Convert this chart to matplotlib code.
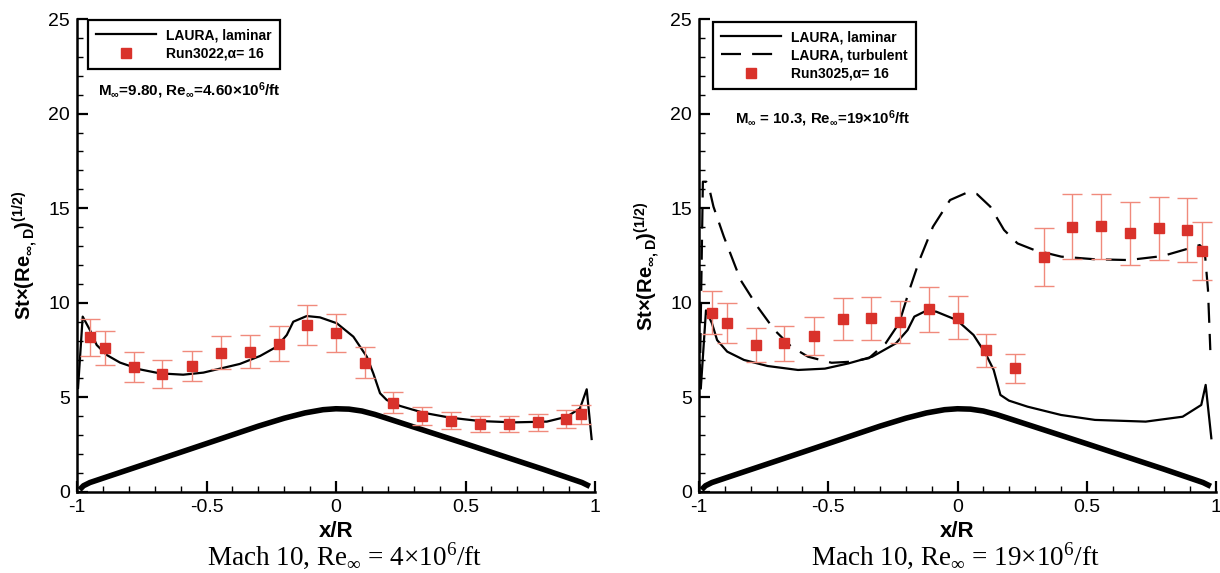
import matplotlib
matplotlib.use('Agg')
import matplotlib.pyplot as plt
from matplotlib.ticker import MultipleLocator

plt.rcParams['font.family'] = ['Liberation Sans', 'DejaVu Sans']
plt.rcParams['mathtext.fontset'] = 'custom'
plt.rcParams['mathtext.rm'] = 'Liberation Serif'
plt.rcParams['mathtext.bf'] = 'Liberation Sans:bold'
plt.rcParams['mathtext.sf'] = 'Liberation Sans'
plt.rcParams['mathtext.default'] = 'bf'

# ---- data ----
# body profile (same in both panels)
body_x = [-0.99, -0.975, -0.95, -0.9, -0.6, -0.3, -0.2, -0.12, -0.05, 0.0, 0.05, 0.1, 0.15, 0.2, 0.5, 0.8, 0.95, 0.98]
body_y = [0.12, 0.33, 0.5, 0.73, 2.1, 3.48, 3.9, 4.18, 4.35, 4.4, 4.38, 4.28, 4.1, 3.88, 2.55, 1.2, 0.5, 0.3]

# left panel: Run3022
lam1_x = [-0.996, -0.978, -0.95, -0.924, -0.885, -0.834, -0.757, -0.68, -0.59, -0.512, -0.448, -0.371,
          -0.293, -0.229, -0.19, -0.165, -0.113, -0.062, 0.003, 0.067, 0.119, 0.144, 0.17, 0.196, 0.247,
          0.337, 0.44, 0.556, 0.685, 0.814, 0.891, 0.942, 0.968, 0.987]
lam1_y = [5.5, 9.27, 8.56, 7.77, 7.24, 6.84, 6.48, 6.27, 6.2, 6.31, 6.52, 6.77,
          7.19, 7.68, 8.3, 9.0, 9.3, 9.23, 8.92, 8.21, 7.15, 6.27, 5.22, 4.86, 4.55,
          4.19, 3.93, 3.75, 3.68, 3.72, 3.98, 4.42, 5.43, 2.8]

run_x = [-0.95, -0.89, -0.78, -0.67, -0.556, -0.444, -0.333, -0.222, -0.111, 0.0, 0.111, 0.222,
         0.333, 0.444, 0.556, 0.667, 0.778, 0.889, 0.945]
run1_y = [8.18, 7.59, 6.62, 6.24, 6.66, 7.36, 7.42, 7.84, 8.83, 8.39, 6.84, 4.72,
          4.02, 3.77, 3.58, 3.61, 3.68, 3.86, 4.10]
run1_err = [0.97, 0.9, 0.8, 0.73, 0.78, 0.86, 0.88, 0.91, 1.06, 1.0, 0.81, 0.56,
            0.48, 0.45, 0.43, 0.43, 0.45, 0.46, 0.5]

# right panel: Run3025
lam2_x = [-0.993, -0.973, -0.95, -0.93, -0.891, -0.826, -0.735, -0.617, -0.513, -0.421, -0.33, -0.238,
          -0.193, -0.167, -0.121, -0.082, -0.003, 0.062, 0.108, 0.14, 0.166, 0.199, 0.271, 0.401,
          0.532, 0.728, 0.871, 0.943, 0.96, 0.982]
lam2_y = [5.48, 9.6, 8.92, 8.03, 7.42, 6.98, 6.66, 6.45, 6.52, 6.8, 7.15, 7.86,
          8.56, 9.27, 9.58, 9.53, 9.09, 8.3, 7.33, 6.45, 5.13, 4.83, 4.51, 4.07,
          3.81, 3.72, 3.98, 4.6, 5.66, 2.84]
turb_x = [-0.997, -0.985, -0.972, -0.963, -0.944, -0.904, -0.839, -0.774, -0.708, -0.643, -0.578, -0.487,
          -0.408, -0.343, -0.278, -0.226, -0.186, -0.147, -0.095, -0.029, 0.036, 0.075, 0.127, 0.18,
          0.232, 0.297, 0.401, 0.532, 0.662, 0.793, 0.884, 0.937, 0.956, 0.969, 0.978]
turb_y = [5.7, 16.4, 16.4, 16.2, 15.08, 13.5, 11.2, 9.8, 8.56, 7.68, 7.15, 6.83,
          6.89, 7.07, 7.86, 8.92, 10.68, 12.26, 14.02, 15.43, 15.82, 15.75, 15.08, 13.85,
          13.14, 12.79, 12.44, 12.3, 12.26, 12.47, 12.83, 13.05, 12.79, 10.68, 7.5]
run2_y = [9.48, 8.93, 7.77, 7.86, 8.25, 9.13, 9.18, 8.97, 9.66, 9.21, 7.49, 6.54,
          12.44, 14.02, 14.04, 13.67, 13.94, 13.85, 12.74]
run2_err = [1.13, 1.07, 0.9, 0.94, 1.0, 1.1, 1.13, 1.1, 1.18, 1.13, 0.88, 0.76,
            1.53, 1.72, 1.72, 1.67, 1.67, 1.68, 1.54]

xticks = [-1, -0.5, 0, 0.5, 1]
xtick_labels = ['-1', '-0.5', '0', '0.5', '1']
yticks = [0, 5, 10, 15, 20, 25]
ytick_labels = ['0', '5', '10', '15', '20', '25']

red = '#d9322b'
err_col = '#f08a7c'
ylab = r'St×(Re$_{\infty,D}$)$^{(1/2)}$'

fig = plt.figure(figsize=(12.2, 5.73), dpi=100)
ax1 = fig.add_axes([77/1220, 81/573, 518/1220, 473/573])
ax2 = fig.add_axes([699/1220, 81/573, 517/1220, 473/573])


def style(ax):
    ax.set_xlim(-1, 1)
    ax.set_ylim(0, 25)
    ax.set_xticks(xticks)
    ax.set_xticklabels(xtick_labels)
    ax.set_yticks(yticks)
    ax.set_yticklabels(ytick_labels)
    ax.xaxis.set_minor_locator(MultipleLocator(0.1))
    ax.yaxis.set_minor_locator(MultipleLocator(1))
    ax.tick_params(which='major', direction='in', length=8, width=1.6, labelsize=14, pad=5)
    ax.tick_params(which='minor', direction='in', length=4.5, width=1.0)
    for s in ['top', 'right']:
        ax.spines[s].set_visible(False)
    for s in ['left', 'bottom']:
        ax.spines[s].set_linewidth(1.8)
    ax.set_xlabel('x/R', fontsize=16, fontweight='bold')
    ax.xaxis.set_label_coords(0.5, -0.062)
    ax.set_ylabel(ylab, fontsize=14.5, fontweight='bold')
    ax.plot(body_x, body_y, color='black', lw=4, solid_capstyle='butt', zorder=2)


style(ax1)
style(ax2)
ax1.yaxis.set_label_coords(-0.072, 0.5)
ax2.yaxis.set_label_coords(-0.072, 0.476)

# left panel
ax1.plot(lam1_x, lam1_y, color='black', lw=1.6, label='LAURA, laminar', zorder=3)
ax1.errorbar(run_x, run1_y, yerr=run1_err, fmt='none', ecolor=err_col, elinewidth=1.0,
             capsize=7, capthick=1.0, zorder=4)
ax1.plot(run_x, run1_y, 's', color=red, ms=7.5, label='Run3022,α= 16', zorder=5)

# right panel
ax2.plot(lam2_x, lam2_y, color='black', lw=1.6, label='LAURA, laminar', zorder=3)
ax2.plot(turb_x, turb_y, color='black', lw=1.6, dashes=(9, 5), label='LAURA, turbulent', zorder=3)
ax2.errorbar(run_x, run2_y, yerr=run2_err, fmt='none', ecolor=err_col, elinewidth=1.0,
             capsize=7, capthick=1.0, zorder=4)
ax2.plot(run_x, run2_y, 's', color=red, ms=7.5, label='Run3025,α= 16', zorder=5)

for ax, anchor in [(ax1, (0.0212, 0.998)), (ax2, (0.027, 0.994))]:
    leg = ax.legend(loc='upper left', bbox_to_anchor=anchor, borderaxespad=0,
                    prop={'family': 'Liberation Sans', 'weight': 'bold', 'size': 10},
                    fancybox=False, edgecolor='black', framealpha=1,
                    handlelength=4.3, handletextpad=0.7, borderpad=0.6, labelspacing=0.3)
    leg.get_frame().set_linewidth(1.6)

ax1.text(0.0405, 0.848, r'M$_{\infty}$=9.80, Re$_{\infty}$=4.60×10$^{6}$/ft', transform=ax1.transAxes,
         fontsize=11, fontweight='bold', va='center', ha='left')
ax2.text(0.0696, 0.789, r'M$_{\infty}$ = 10.3, Re$_{\infty}$=19×10$^{6}$/ft', transform=ax2.transAxes,
         fontsize=10.8, fontweight='bold', va='center', ha='left')

fig.text(345/1220, 1 - 556/573, r'Mach 10, Re$_{\mathrm{\infty}}$ = 4×10$^{\mathrm{6}}$/ft',
         family='Liberation Serif', fontsize=19.5, ha='center', va='center')
fig.text(955/1220, 1 - 556/573, r'Mach 10, Re$_{\mathrm{\infty}}$ = 19×10$^{\mathrm{6}}$/ft',
         family='Liberation Serif', fontsize=19.5, ha='center', va='center')

fig.savefig('out.png', dpi=100)
